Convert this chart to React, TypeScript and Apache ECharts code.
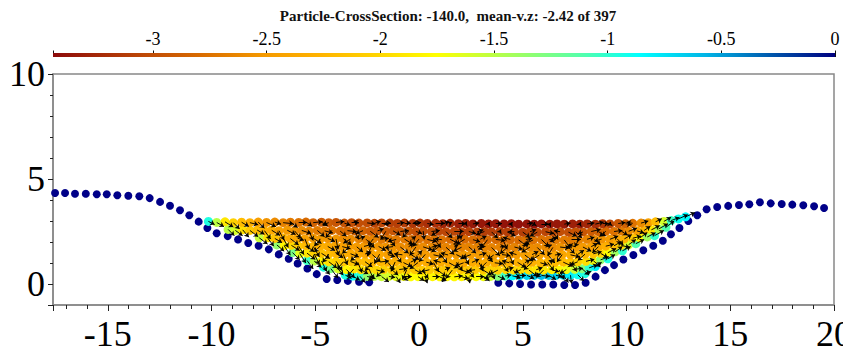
import React, { useEffect, useRef } from "react";
import * as echarts from "echarts";

const titleText = "Particle-CrossSection: -140.0,  mean-v.z: -2.42 of 397";

// axis ranges
const xMin = -17.64;
const xMax = 20;
const yMin = -1;
const yMax = 10;
const cbMin = -3.44;
const cbMax = 0;

// colour map stops (fraction along colour bar, colour)
const cmapStops: [number, string][] = [
  [0, "#8c0a0a"],
  [0.12, "#bf4a06"],
  [0.19, "#d96c00"],
  [0.27, "#f59a00"],
  [0.34, "#ffb300"],
  [0.415, "#ffd500"],
  [0.49, "#ffff00"],
  [0.56, "#bfff40"],
  [0.61, "#90ff70"],
  [0.68, "#50ffb0"],
  [0.75, "#00ffff"],
  [0.835, "#00b4e6"],
  [0.925, "#0050a8"],
  [1, "#000080"],
];

// wall (boundary) particles [x, y]
const wallPoints: [number, number][] = [
  [-17.54, 4.33], [-17.06, 4.33], [-16.58, 4.3], [-16.06, 4.3], [-15.53, 4.27],
  [-15.05, 4.27], [-14.54, 4.23], [-14.01, 4.2], [-13.48, 4.18], [-12.98, 4.09],
  [-12.48, 3.91], [-12.0, 3.73], [-11.52, 3.51], [-11.07, 3.27], [-10.62, 2.97],
  [-10.2, 2.67], [-9.75, 2.42], [-9.22, 2.28], [-8.72, 2.12], [-8.23, 1.95],
  [-7.73, 1.82], [-7.24, 1.65], [-6.76, 1.41], [-6.28, 1.2], [-5.85, 0.98],
  [-5.38, 0.74], [-4.93, 0.47], [-4.45, 0.24], [-3.94, 0.19], [-3.43, 0.15],
  [-2.89, 0.11], [-2.4, 0.08],
  [3.82, 0.06], [4.35, 0.03], [4.87, 0.0], [5.4, -0.02], [5.94, -0.02],
  [6.47, -0.02], [7.0, -0.05], [7.52, -0.05], [8.03, 0.06], [8.51, 0.35],
  [8.96, 0.66], [9.4, 0.9], [9.85, 1.17], [10.33, 1.38], [10.81, 1.61],
  [11.29, 1.82], [11.75, 2.06], [12.14, 2.37], [12.55, 2.67], [12.98, 3.0],
  [13.41, 3.27], [13.86, 3.56], [14.37, 3.67], [14.9, 3.72], [15.42, 3.76],
  [15.92, 3.8], [16.43, 3.89], [16.95, 3.84], [17.48, 3.81], [17.99, 3.78],
  [18.52, 3.75], [19.04, 3.7], [19.52, 3.62],
];

// fluid particles [x, y, v.z, vx, vy]
const rowSurface: number[][] = [
  [-10.15,2.98,-0.95,.3,-.15],[-9.75,2.93,-1.5,.35,-.2],[-9.35,2.96,-1.9,.4,-.25],[-8.95,2.92,-2.05,.3,-.3],
  [-8.55,2.94,-2.2,.35,-.2],[-8.15,2.92,-2.3,.4,-.1],[-7.75,2.95,-2.45,.3,-.3],[-7.35,2.93,-2.55,.45,-.2],
  [-6.95,2.95,-2.6,.3,-.1],[-6.55,2.92,-2.65,.5,-.05],[-6.2,2.94,-2.7,.35,-.25],[-5.8,2.93,-2.75,.4,0],
  [-5.45,2.95,-2.8,.3,-.2],[-5.1,2.92,-2.85,.45,.05],[-4.7,2.94,-2.9,.3,-.15],[-4.35,2.92,-2.9,-.3,-.1],
  [-4.0,2.93,-2.95,.4,.05],[-3.6,2.9,-2.95,.3,-.1],[-3.25,2.92,-3.0,.35,0],[-2.9,2.9,-3.0,-.25,.1],
  [-2.5,2.91,-3.0,.4,-.05],[-2.15,2.89,-3.05,.3,.1],[-1.8,2.91,-3.05,.45,0],[-1.4,2.9,-3.1,-.3,-.05],
  [-1.05,2.88,-3.1,.35,.05],[-0.7,2.9,-3.1,.3,0],[-0.3,2.88,-3.15,.4,.05],[0.05,2.9,-3.15,-.35,0],
  [0.4,2.88,-3.2,.3,-.05],[0.8,2.89,-3.2,.45,0],[1.15,2.87,-3.25,.3,.1],[1.5,2.89,-3.25,.1,.05],
  [1.9,2.87,-3.3,.35,0],[2.25,2.88,-3.3,.05,.1],[2.6,2.86,-3.35,.3,.05],[3.0,2.88,-3.35,0,0],
  [3.35,2.86,-3.35,.05,.1],[3.7,2.87,-3.35,.3,0],[4.1,2.86,-3.38,0,0],[4.45,2.87,-3.38,.05,.08],
  [4.8,2.85,-3.4,0,0],[5.2,2.86,-3.38,.3,.05],[5.55,2.85,-3.4,0,.1],[5.9,2.86,-3.38,.35,0],
  [6.3,2.85,-3.35,.05,.08],[6.65,2.86,-3.35,0,0],[7.0,2.85,-3.33,.3,.05],[7.4,2.86,-3.3,0,0],
  [7.75,2.85,-3.3,.05,.1],[8.1,2.86,-3.25,.35,.05],[8.5,2.85,-3.2,.4,.1],[8.85,2.87,-3.15,.3,0],
  [9.2,2.86,-3.05,0,.1],[9.6,2.88,-2.95,.35,.05],[9.95,2.87,-2.85,.3,-.05],[10.3,2.89,-2.75,-.3,.05],
  [10.7,2.9,-2.6,.35,.1],[11.05,2.92,-2.45,0,0],[11.4,2.96,-2.2,.3,.15],[11.8,2.98,-1.6,.35,.2],
  [12.15,3.02,-1.05,.4,.15],[12.5,3.1,-0.9,.45,.2],[12.85,3.2,-0.85,.45,.2],
];

const rowUpper: number[][] = [
  [-9.2,2.6,-1.5,.3,-.3],[-8.85,2.55,-1.6,.35,-.25],[-8.5,2.58,-1.95,.3,-.35],[-8.15,2.55,-2.1,.4,-.3],
  [-7.8,2.57,-2.2,.35,-.2],[-7.45,2.54,-2.3,.3,-.4],[-7.1,2.56,-2.35,.4,-.25],[-6.75,2.54,-2.45,.25,-.45],
  [-6.35,2.56,-2.5,.4,-.2],[-6.0,2.53,-2.55,.3,-.35],[-5.65,2.55,-2.6,.45,-.15],[-5.3,2.52,-2.65,.2,-.45],
  [-4.9,2.55,-2.7,.35,-.3],[-4.55,2.53,-2.7,.4,-.1],[-4.2,2.55,-2.75,-.3,-.35],[-3.8,2.52,-2.8,.3,-.25],
  [-3.45,2.54,-2.8,.45,-.05],[-3.1,2.52,-2.85,.2,-.4],[-2.7,2.54,-2.85,-.35,-.15],[-2.35,2.51,-2.9,.4,-.3],
  [-2.0,2.53,-2.9,.3,.1],[-1.6,2.51,-2.9,-.25,-.4],[-1.25,2.53,-2.95,.35,-.2],[-0.9,2.5,-2.95,.4,.05],
  [-0.5,2.52,-2.95,-.3,-.3],[-0.15,2.5,-3.0,.3,-.1],[0.2,2.52,-3.0,.05,-.4],[0.6,2.5,-3.0,.4,.05],
  [0.95,2.51,-3.05,-.35,-.2],[1.3,2.49,-3.05,.3,-.3],[1.7,2.51,-3.05,.45,0],[2.05,2.49,-3.1,-.2,-.35],
  [2.4,2.5,-3.1,.35,-.1],[2.8,2.48,-3.1,.3,.1],[3.15,2.5,-3.1,-.4,-.15],[3.5,2.48,-3.1,.3,-.3],
  [3.9,2.5,-3.1,.05,.1],[4.25,2.48,-3.1,.4,-.2],[4.6,2.49,-3.1,-.3,0],[5.0,2.47,-3.1,.35,-.25],
  [5.35,2.49,-3.05,.3,.1],[5.7,2.47,-3.05,-.35,-.2],[6.1,2.49,-3.05,.4,-.1],[6.45,2.47,-3.0,.25,-.35],
  [6.8,2.49,-3.0,-.3,.05],[7.2,2.47,-3.0,.4,-.2],[7.55,2.49,-2.95,.3,-.3],[7.9,2.48,-2.95,-.25,-.1],
  [8.3,2.5,-2.9,.45,.1],[8.65,2.49,-2.85,.35,-.2],[9.0,2.51,-2.8,-.3,-.25],[9.4,2.5,-2.75,.4,.05],
  [9.75,2.52,-2.7,.3,-.2],[10.1,2.51,-2.6,.4,.15],[10.5,2.53,-2.45,.35,-.1],[10.85,2.55,-2.25,.3,.2],
  [11.2,2.58,-1.9,.4,.2],[11.55,2.62,-1.45,.45,.25],[11.9,2.7,-1.1,.4,.3],
];

const rowMiddleHigh: number[][] = [
  [-7.7,2.2,-1.55,.4,-.3],[-7.3,2.2,-1.95,.3,-.4],[-6.95,2.17,-2.15,.35,-.2],
  [-6.55,2.19,-2.25,.25,-.45],[-6.2,2.16,-2.35,.4,-.3],[-5.85,2.18,-2.4,.3,-.1],[-5.5,2.15,-2.45,.2,-.5],
  [-5.1,2.18,-2.5,.4,-.25],[-4.75,2.15,-2.5,-.3,-.35],[-4.4,2.17,-2.55,.35,-.15],[-4.0,2.14,-2.55,.1,-.5],
  [-3.65,2.16,-2.6,.4,-.3],[-3.3,2.14,-2.6,-.35,-.2],[-2.9,2.16,-2.65,.3,.1],[-2.55,2.13,-2.65,.4,-.4],
  [-2.2,2.15,-2.65,-.25,-.3],[-1.8,2.13,-2.7,.35,.05],[-1.45,2.15,-2.7,.3,-.35],[-1.1,2.12,-2.7,-.4,-.1],
  [-0.7,2.14,-2.7,.4,-.25],[-0.35,2.12,-2.75,.2,.15],[0.0,2.14,-2.75,-.3,-.35],[0.4,2.12,-2.75,.45,-.1],
  [0.75,2.13,-2.75,.3,-.4],[1.1,2.11,-2.75,-.35,.05],[1.5,2.13,-2.8,.4,-.2],[1.85,2.11,-2.8,.25,.2],
  [2.2,2.13,-2.8,-.4,-.25],[2.6,2.11,-2.8,.35,-.1],[2.95,2.13,-2.8,.3,.15],[3.3,2.11,-2.8,-.3,-.4],
  [3.7,2.12,-2.8,.45,-.05],[4.05,2.1,-2.8,.2,-.45],[4.4,2.12,-2.8,-.35,.1],[4.8,2.1,-2.8,.4,-.3],
  [5.15,2.12,-2.75,.3,.05],[5.5,2.1,-2.75,-.4,-.2],[5.9,2.12,-2.75,.35,-.35],[6.25,2.1,-2.75,.4,.1],
  [6.6,2.12,-2.7,-.3,-.1],[7.0,2.1,-2.7,.3,-.4],[7.35,2.12,-2.7,.45,0],[7.7,2.11,-2.65,-.2,-.35],
  [8.1,2.13,-2.65,.35,.1],[8.45,2.12,-2.6,.3,-.25],[8.8,2.14,-2.55,-.35,-.1],[9.2,2.13,-2.5,.4,.15],
  [9.55,2.15,-2.4,.3,-.3],[9.9,2.15,-2.3,.35,.2],[10.3,2.18,-2.1,.4,.1],[10.65,2.2,-1.8,.35,.25],
  [11.0,2.24,-1.4,.4,.2],[11.35,2.3,-1.0,.45,.25],
];

const rowMiddle: number[][] = [
  [-6.85,1.86,-1.35,.35,-.3],[-6.5,1.82,-1.8,.3,-.45],[-6.15,1.84,-2.0,.4,-.25],[-5.8,1.8,-2.1,.25,-.4],
  [-5.45,1.83,-2.2,.4,-.3],[-5.1,1.79,-2.25,.3,-.5],[-4.75,1.82,-2.3,-.3,-.3],[-4.4,1.79,-2.35,.35,-.2],
  [-4.05,1.81,-2.4,.2,-.45],[-3.7,1.78,-2.45,.4,-.1],[-3.35,1.8,-2.45,-.35,-.35],[-3.0,1.77,-2.5,.3,-.25],
  [-2.65,1.79,-2.5,.4,.1],[-2.3,1.77,-2.5,-.2,-.45],[-1.95,1.79,-2.55,.35,-.2],[-1.6,1.76,-2.55,.3,-.35],
  [-1.25,1.78,-2.55,-.4,-.05],[-0.9,1.76,-2.6,.4,-.3],[-0.5,1.78,-2.6,.25,.15],[-0.15,1.76,-2.6,-.3,-.4],
  [0.2,1.77,-2.6,.45,-.15],[0.6,1.75,-2.6,.3,.1],[0.95,1.77,-2.65,-.35,-.25],[1.3,1.75,-2.65,.4,-.35],
  [1.7,1.77,-2.65,.2,.1],[2.05,1.75,-2.65,-.4,-.2],[2.4,1.77,-2.65,.35,-.3],[2.8,1.75,-2.65,.3,.15],
  [3.15,1.76,-2.65,-.3,-.1],[3.5,1.74,-2.65,.4,-.4],[3.9,1.76,-2.65,.25,.05],[4.25,1.74,-2.65,-.35,-.3],
  [4.6,1.76,-2.65,.4,-.1],[5.0,1.74,-2.6,.3,.2],[5.35,1.76,-2.6,-.4,-.25],[5.7,1.74,-2.6,.35,-.35],
  [6.1,1.76,-2.6,.3,.1],[6.45,1.74,-2.6,-.25,-.4],[6.8,1.76,-2.55,.45,-.05],[7.2,1.75,-2.55,.3,-.3],
  [7.55,1.77,-2.5,-.35,.1],[7.9,1.76,-2.5,.4,-.2],[8.3,1.78,-2.45,.3,.15],[8.65,1.78,-2.4,-.3,-.3],
  [9.0,1.8,-2.3,.4,.1],[9.4,1.82,-2.2,.35,.2],[9.75,1.84,-2.0,.4,-.1],[10.1,1.87,-1.6,.35,.25],
  [10.45,1.92,-1.1,.4,.2],
];

const rowLowerHigh: number[][] = [
  [-6.1,1.5,-1.25,.35,-.35],[-5.75,1.45,-1.65,.3,-.45],[-5.4,1.47,-1.9,.4,-.3],[-5.05,1.43,-2.05,.25,-.5],
  [-4.7,1.46,-2.15,.4,-.25],[-4.35,1.42,-2.2,-.3,-.4],[-4.0,1.45,-2.25,.35,-.2],[-3.65,1.41,-2.3,.2,-.5],
  [-3.3,1.44,-2.35,.4,-.15],[-2.95,1.41,-2.35,-.35,-.3],[-2.6,1.43,-2.4,.3,.1],[-2.25,1.4,-2.4,.4,-.35],
  [-1.9,1.42,-2.4,-.25,-.45],[-1.5,1.4,-2.45,.35,-.1],[-1.15,1.42,-2.45,.3,-.4],[-0.8,1.39,-2.45,-.4,.05],
  [-0.4,1.41,-2.5,.4,-.25],[-0.05,1.39,-2.5,.2,.2],[0.3,1.41,-2.5,-.3,-.35],[0.7,1.39,-2.5,.45,-.1],
  [1.05,1.4,-2.5,.3,-.4],[1.4,1.38,-2.5,-.35,.1],[1.8,1.4,-2.5,.4,-.2],[2.15,1.38,-2.5,.25,-.45],
  [2.5,1.4,-2.5,-.4,-.15],[2.9,1.38,-2.5,.35,.1],[3.25,1.4,-2.5,.3,-.35],[3.6,1.38,-2.5,-.3,-.2],
  [4.0,1.4,-2.5,.4,-.05],[4.35,1.38,-2.5,.2,-.45],[4.7,1.4,-2.5,-.35,.1],[5.1,1.38,-2.45,.4,-.3],
  [5.45,1.4,-2.45,.3,.15],[5.8,1.38,-2.45,-.4,-.25],[6.2,1.4,-2.45,.35,-.4],[6.55,1.38,-2.4,.3,.05],
  [6.9,1.4,-2.4,-.25,-.35],[7.3,1.39,-2.35,.45,-.1],[7.65,1.41,-2.3,.3,.2],[8.0,1.42,-2.25,-.35,-.3],
  [8.4,1.44,-2.15,.4,.1],[8.75,1.46,-2.0,.35,-.2],[9.1,1.49,-1.75,.4,.2],[9.45,1.53,-1.4,.35,.25],
  [9.8,1.58,-1.0,.4,.2],
];

const rowLower: number[][] = [
  [-5.4,1.12,-1.05,.3,-.4],[-5.05,1.09,-1.5,.35,-.3],[-4.7,1.1,-1.8,.25,-.5],[-4.35,1.06,-1.95,.4,-.3],
  [-4.0,1.08,-2.05,.3,-.45],[-3.65,1.05,-2.1,-.3,-.35],[-3.3,1.07,-2.15,.4,-.15],[-2.95,1.04,-2.2,.2,-.5],
  [-2.6,1.06,-2.2,.35,-.25],[-2.25,1.03,-2.25,-.35,-.4],[-1.85,1.05,-2.25,.4,.05],[-1.5,1.03,-2.3,.3,-.35],
  [-1.15,1.05,-2.3,-.2,-.45],[-0.75,1.02,-2.3,.4,-.2],[-0.4,1.04,-2.35,.3,.15],[-0.05,1.02,-2.35,-.4,-.3],
  [0.35,1.04,-2.35,.35,-.1],[0.7,1.02,-2.35,.25,-.45],[1.05,1.03,-2.35,-.35,.1],[1.45,1.01,-2.35,.45,-.25],
  [1.8,1.03,-2.35,.3,-.4],[2.15,1.01,-2.35,-.4,-.15],[2.55,1.03,-2.35,.35,.15],[2.9,1.01,-2.35,.2,-.4],
  [3.25,1.03,-2.35,-.3,-.3],[3.65,1.01,-2.35,.4,-.05],[4.0,1.03,-2.3,.3,-.45],[4.35,1.01,-2.3,-.35,.1],
  [4.75,1.03,-2.3,.4,-.25],[5.1,1.01,-2.3,.25,.15],[5.45,1.03,-2.3,-.4,-.35],[5.85,1.01,-2.25,.35,-.1],
  [6.2,1.03,-2.25,.3,-.4],[6.55,1.02,-2.2,-.3,.1],[6.95,1.04,-2.2,.45,-.2],[7.3,1.04,-2.15,.3,-.45],
  [7.65,1.06,-2.05,-.35,-.15],[8.05,1.08,-1.95,.4,.1],[8.4,1.11,-1.7,.35,-.3],[8.75,1.15,-1.35,.4,.15],
  [9.1,1.2,-0.95,.35,.2],
];

const rowNearBed: number[][] = [
  [-4.6,0.8,-0.95,.3,-.35],[-4.25,0.73,-1.25,.35,-.45],[-3.9,0.72,-1.6,.25,-.3],[-3.5,0.69,-1.8,.4,-.4],
  [-3.15,0.71,-1.9,-.3,-.35],[-2.8,0.68,-1.95,.35,-.2],[-2.4,0.7,-2.0,.2,-.45],[-2.05,0.67,-2.0,.4,-.1],
  [-1.7,0.69,-2.05,-.35,-.35],[-1.3,0.67,-2.05,.3,-.25],[-0.95,0.69,-2.1,.4,.05],[-0.6,0.66,-2.1,-.2,-.45],
  [-0.2,0.68,-2.1,.35,-.2],[0.15,0.66,-2.1,.3,-.4],[0.5,0.68,-2.1,-.4,-.1],[0.9,0.66,-2.1,.4,-.3],
  [1.25,0.68,-2.1,.25,.1],[1.6,0.66,-2.1,-.3,-.4],[2.0,0.68,-2.1,.45,-.15],[2.35,0.66,-2.1,.3,-.35],
  [2.7,0.68,-2.1,-.35,-.05],[3.1,0.66,-2.1,.4,-.25],[3.45,0.68,-2.05,.2,-.45],[3.8,0.66,-2.05,-.4,-.2],
  [4.2,0.68,-2.0,.35,.1],[4.55,0.66,-2.0,.3,-.4],[4.9,0.68,-1.95,-.3,-.15],[5.3,0.66,-1.95,.4,-.3],
  [5.65,0.68,-1.9,.3,.1],[6.0,0.66,-1.9,-.35,-.35],[6.4,0.68,-1.85,.35,-.1],[6.75,0.67,-1.8,.25,-.45],
  [7.1,0.69,-1.7,-.3,-.2],[7.5,0.7,-1.55,.4,.05],[7.85,0.73,-1.3,.35,-.3],[8.2,0.77,-1.0,.4,.15],
  [8.5,0.83,-0.8,.3,.2],
];

const rowBed: number[][] = [
  [-3.55,0.42,-0.95,.3,-.15],[-3.2,0.38,-0.85,.35,-.2],[-2.85,0.37,-1.0,.25,-.3],[-2.5,0.36,-1.35,.4,-.1],
  [-2.15,0.37,-1.5,-.3,-.2],[-1.8,0.35,-1.55,.35,-.25],[-1.45,0.36,-1.6,.3,-.05],[-1.1,0.35,-1.65,.2,-.3],
  [-0.75,0.36,-1.7,.4,0],[-0.4,0.34,-1.75,-.35,-.15],[-0.05,0.35,-1.75,.3,-.2],[0.3,0.34,-1.8,.1,-.3],
  [0.65,0.35,-1.8,.35,0],[1.0,0.34,-1.8,.3,-.15],[1.35,0.35,-1.8,-.25,-.25],[1.7,0.34,-1.8,.4,.05],
  [2.05,0.35,-1.8,.35,-.1],[2.4,0.34,-1.8,.05,-.3],[2.75,0.35,-1.75,.4,0],[3.1,0.35,-1.7,.3,-.2],
  [3.45,0.36,-1.55,-.3,-.1],[3.8,0.37,-1.3,.35,-.15],[4.15,0.38,-1.05,.3,.05],[4.5,0.39,-0.85,.4,-.1],
  [4.85,0.4,-0.75,.3,0],[5.2,0.41,-0.7,.35,-.15],[5.55,0.41,-0.65,.3,.05],[5.9,0.41,-0.6,.4,-.05],
  [6.25,0.41,-0.65,.35,-.2],[6.6,0.41,-0.7,.3,-.05],[6.95,0.42,-0.75,.25,-.35],[7.3,0.42,-0.8,.05,-.4],
  [7.65,0.44,-0.9,.3,-.3],[8.0,0.5,-0.95,.3,.1],
];

const particles = [
  ...rowBed, ...rowNearBed, ...rowLower, ...rowLowerHigh,
  ...rowMiddle, ...rowMiddleHigh, ...rowUpper, ...rowSurface,
];

function hexToRgb(h: string): number[] {
  return [parseInt(h.slice(1, 3), 16), parseInt(h.slice(3, 5), 16), parseInt(h.slice(5, 7), 16)];
}

function colorOf(v: number): string {
  let f = (v - cbMin) / (cbMax - cbMin);
  f = Math.max(0, Math.min(1, f));
  for (let i = 1; i < cmapStops.length; i++) {
    const [f1, c1] = cmapStops[i];
    const [f0, c0] = cmapStops[i - 1];
    if (f <= f1) {
      const t = (f - f0) / (f1 - f0 || 1);
      const a = hexToRgb(c0);
      const b = hexToRgb(c1);
      const r = a.map((x, k) => Math.round(x + (b[k] - x) * t));
      return `rgb(${r[0]},${r[1]},${r[2]})`;
    }
  }
  return cmapStops[cmapStops.length - 1][1];
}

const serif = "Liberation Serif";

function multipleLabel(step: number) {
  return (v: number) => {
    const k = Math.round(v / step);
    return Math.abs(v - k * step) < 1e-6 ? String(Number((k * step).toFixed(2))) : "";
  };
}

export default function App() {
  const ref = useRef<HTMLDivElement>(null);
  useEffect(() => {
    if (!ref.current) return;
    const chart = echarts.init(ref.current, undefined, { renderer: "svg" });
    const arrows = particles
      .filter((p) => p[3] !== 0 || p[4] !== 0)
      .map((p) => ({ coords: [[p[0], p[1]], [p[0] + p[3], p[1] + p[4]]] }));

    chart.setOption({
      animation: false,
      title: {
        text: titleText,
        left: 443,
        top: 3,
        textAlign: "center",
        textStyle: { fontFamily: serif, fontSize: 15, fontWeight: "bold", color: "#111" },
      },
      grid: [
        {
          left: 53, right: 9, top: 74, bottom: 49, show: true, borderColor: "#888", borderWidth: 1.5,
          backgroundColor: "transparent", containLabel: false, outerBoundsMode: "none",
        },
        { left: 53, right: 8, top: 53, height: 4, containLabel: false, outerBoundsMode: "none" },
      ],
      xAxis: [
        {
          gridIndex: 0, type: "value", min: xMin, max: xMax, splitNumber: 7,
          axisLine: { show: true, onZero: false, lineStyle: { color: "#888", width: 1.5 } },
          axisTick: { show: true, length: 6, lineStyle: { color: "#222" } },
          minorTick: { show: true, splitNumber: 5, length: 4, lineStyle: { color: "#222" } },
          splitLine: { show: false },
          axisLabel: {
            fontFamily: serif, fontSize: 36, color: "#000", margin: 11, formatter: multipleLabel(5),
            alignMinLabel: "center", alignMaxLabel: "center", hideOverlap: false,
          },
        },
        {
          gridIndex: 1, type: "value", min: cbMin, max: cbMax, splitNumber: 7, position: "bottom",
          axisLine: { show: false, onZero: false },
          axisTick: { show: true, inside: true, length: 6.5, lineStyle: { color: "#111" } },
          minorTick: { show: true, splitNumber: 5, length: 4, lineStyle: { color: "#111" } },
          splitLine: { show: false },
          axisLabel: { show: false },
        },
        {
          gridIndex: 1, type: "value", min: cbMin, max: cbMax, splitNumber: 7, position: "top",
          axisLine: { show: false, onZero: false },
          axisTick: { show: false },
          splitLine: { show: false },
          axisLabel: {
            fontFamily: serif, fontSize: 18, color: "#000", margin: 5, formatter: multipleLabel(0.5),
            alignMinLabel: "center", alignMaxLabel: "center",
          },
        },
      ],
      yAxis: [
        {
          gridIndex: 0, type: "value", min: yMin, max: yMax, splitNumber: 2,
          axisLine: { show: true, onZero: false, lineStyle: { color: "#888", width: 1.5 } },
          axisTick: { show: true, length: 5, lineStyle: { color: "#222" } },
          minorTick: { show: true, splitNumber: 5, length: 3, lineStyle: { color: "#222" } },
          splitLine: { show: false },
          axisLabel: { fontFamily: serif, fontSize: 36, color: "#000", margin: 8, formatter: multipleLabel(5) },
        },
        { gridIndex: 1, type: "value", min: 0, max: 1, show: false },
      ],
      series: [
        {
          type: "custom",
          xAxisIndex: 1,
          yAxisIndex: 1,
          data: [[cbMin, cbMax]],
          renderItem: (_params: any, api: any) => {
            const p0 = api.coord([api.value(0), 0]);
            const p1 = api.coord([api.value(1), 1]);
            return {
              type: "rect",
              shape: { x: p0[0], y: p1[1], width: p1[0] - p0[0], height: p0[1] - p1[1] },
              style: {
                fill: new echarts.graphic.LinearGradient(
                  0, 0, 1, 0,
                  cmapStops.map(([o, c]) => ({ offset: o, color: c }))
                ),
              },
            };
          },
        },
        {
          type: "scatter",
          xAxisIndex: 0,
          yAxisIndex: 0,
          data: wallPoints,
          symbolSize: 8,
          itemStyle: { color: "#000088", opacity: 1 },
          z: 2,
        },
        {
          type: "scatter",
          xAxisIndex: 0,
          yAxisIndex: 0,
          data: particles.map((p) => [p[0], p[1], p[2]]),
          symbolSize: 9,
          itemStyle: { color: (p: any) => colorOf(p.value[2]), opacity: 1 },
          z: 3,
        },
        {
          type: "lines",
          coordinateSystem: "cartesian2d",
          xAxisIndex: 0,
          yAxisIndex: 0,
          data: arrows,
          symbol: ["none", "arrow"],
          symbolSize: 4.5,
          lineStyle: { color: "#000", width: 1, opacity: 0.95, curveness: 0 },
          z: 4,
        },
      ],
    });
    return () => chart.dispose();
  }, []);
  return <div ref={ref} style={{ position: "absolute", left: 0, top: 0, width: 843, height: 354 }} />;
}
